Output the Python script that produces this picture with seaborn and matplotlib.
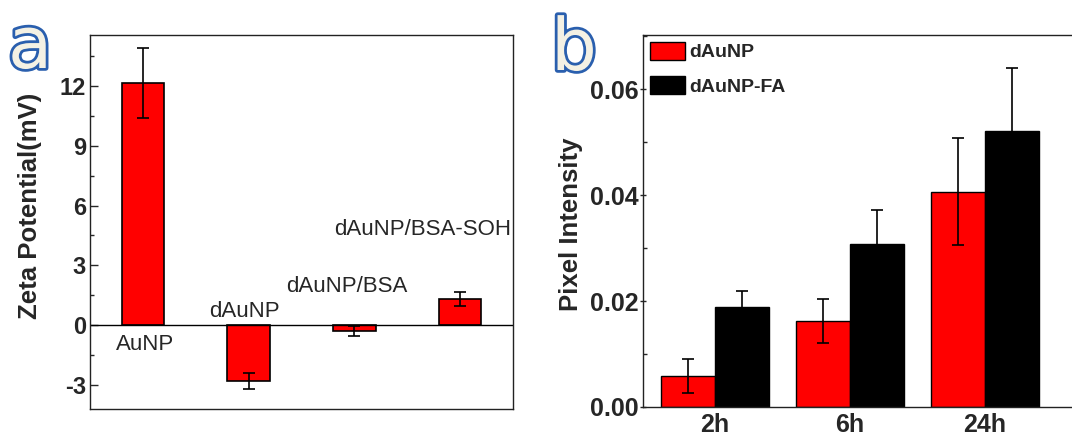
import matplotlib
matplotlib.use('Agg')
import matplotlib.pyplot as plt
import matplotlib.patheffects as pe
from matplotlib.ticker import MultipleLocator, FormatStrFormatter
import pandas as pd
import seaborn as sns

# Panel a: zeta potential of the particles
samples = ['AuNP', 'dAuNP', 'dAuNP/BSA', 'dAuNP/BSA-SOH']
zeta = [12.15, -2.8, -0.3, 1.3]
zeta_err = [1.75, 0.42, 0.25, 0.35]

# Panel b: pixel intensity over time
times = ['2h', '6h', '24h']
groups = ['dAuNP', 'dAuNP-FA']
intensity_dAuNP = [0.0058, 0.0162, 0.0406]
intensity_FA = [0.0188, 0.0307, 0.0521]
err_dAuNP = [0.0032, 0.0041, 0.0101]
err_FA = [0.0031, 0.0065, 0.0118]

sns.set_style('ticks')
plt.rcParams['font.family'] = ['Liberation Sans', 'DejaVu Sans']
plt.rcParams['axes.unicode_minus'] = False

fig = plt.figure(figsize=(10.72, 4.37), dpi=100)
ax1 = fig.add_axes([90 / 1072, 28 / 437, 423 / 1072, 374 / 437])
ax2 = fig.add_axes([643 / 1072, 30 / 437, 457 / 1072, 372 / 437])

# ---- panel a ----
df_a = pd.DataFrame({'sample': samples, 'zeta': zeta})
sns.barplot(data=df_a, x='sample', y='zeta', color='red', edgecolor='black',
            linewidth=1.2, width=0.4, saturation=1, errorbar=None, ax=ax1)
ax1.errorbar(range(len(samples)), zeta, yerr=zeta_err, fmt='none',
             ecolor='black', elinewidth=1.2, capsize=4, capthick=1.2)
ax1.axhline(0, color='black', lw=1)
ax1.set_xlim(-0.5, 3.5)
ax1.set_ylim(-4.2, 14.55)
ax1.set_xticks([])
ax1.set_xlabel('')
ax1.yaxis.set_major_locator(MultipleLocator(3))
ax1.yaxis.set_minor_locator(MultipleLocator(1.5))
ax1.tick_params(axis='y', which='major', direction='in', length=6, width=1,
                labelsize=17, pad=3)
ax1.tick_params(axis='y', which='minor', direction='in', length=3, width=1)
for lab in ax1.get_yticklabels():
    lab.set_fontweight('bold')
ax1.set_ylabel('Zeta Potential(mV)', fontsize=18.5, fontweight='bold')
ax1.yaxis.set_label_coords(-0.114, 0.543)

# sample names written next to the bars
label_pos = [(0.02, -1.25), (0.965, 0.40), (1.93, 1.66), (2.65, 4.52)]
for name, (lx, ly) in zip(samples, label_pos):
    ax1.text(lx, ly, name, ha='center', va='baseline', fontsize=16)

for s in ax1.spines.values():
    s.set_visible(True)
    s.set_linewidth(1)
    s.set_color('#222222')

# ---- panel b ----
df_b = pd.DataFrame({
    'time': times * 2,
    'group': [groups[0]] * 3 + [groups[1]] * 3,
    'value': intensity_dAuNP + intensity_FA,
})
sns.barplot(data=df_b, x='time', y='value', hue='group', hue_order=groups,
            palette=['red', 'black'], edgecolor='black', linewidth=1,
            width=0.8, saturation=1, errorbar=None, ax=ax2)
for cont, errs in zip(ax2.containers, [err_dAuNP, err_FA]):
    xs = [b.get_x() + b.get_width() / 2 for b in cont]
    ys = [b.get_height() for b in cont]
    ax2.errorbar(xs, ys, yerr=errs, fmt='none', ecolor='black',
                 elinewidth=1.2, capsize=4, capthick=1.2)
ax2.set_xlim(-0.533, 2.852)
ax2.set_ylim(0, 0.0702)
ax2.set_xlabel('')
ax2.yaxis.set_major_locator(MultipleLocator(0.02))
ax2.yaxis.set_minor_locator(MultipleLocator(0.01))
ax2.yaxis.set_major_formatter(FormatStrFormatter('%.2f'))
ax2.tick_params(axis='y', which='major', direction='inout', length=5, width=1,
                labelsize=18, pad=1)
ax2.tick_params(axis='y', which='minor', direction='in', length=3, width=1)
ax2.tick_params(axis='x', length=0, labelsize=18, pad=4)
for lab in ax2.get_yticklabels() + ax2.get_xticklabels():
    lab.set_fontweight('bold')
ax2.set_ylabel('Pixel Intensity', fontsize=18.5, fontweight='bold')
ax2.yaxis.set_label_coords(-0.131, 0.492)
for s in ax2.spines.values():
    s.set_visible(True)
    s.set_linewidth(1)
    s.set_color('#222222')

handles, labels = ax2.get_legend_handles_labels()
ax2.legend(handles, labels, loc='upper left', bbox_to_anchor=(0.0, 1.0),
           frameon=False, prop={'size': 14, 'weight': 'bold'},
           handlelength=1.8, handleheight=1.05, labelspacing=0.75,
           handletextpad=0.25, borderaxespad=0.15, borderpad=0.2)

# panel letters
letter_fx = [pe.withStroke(linewidth=4, foreground='#2a5fae')]
fig.text(8 / 1072, 1 - 68 / 437, 'a', fontsize=52, color='#f4f1e4',
         family='DejaVu Sans', ha='left', va='baseline', path_effects=letter_fx)
fig.text(551 / 1072, 1 - 70 / 437, 'b', fontsize=52, color='#f4f1e4',
         family='DejaVu Sans', ha='left', va='baseline', path_effects=letter_fx)

fig.savefig('out.png', dpi=100)
